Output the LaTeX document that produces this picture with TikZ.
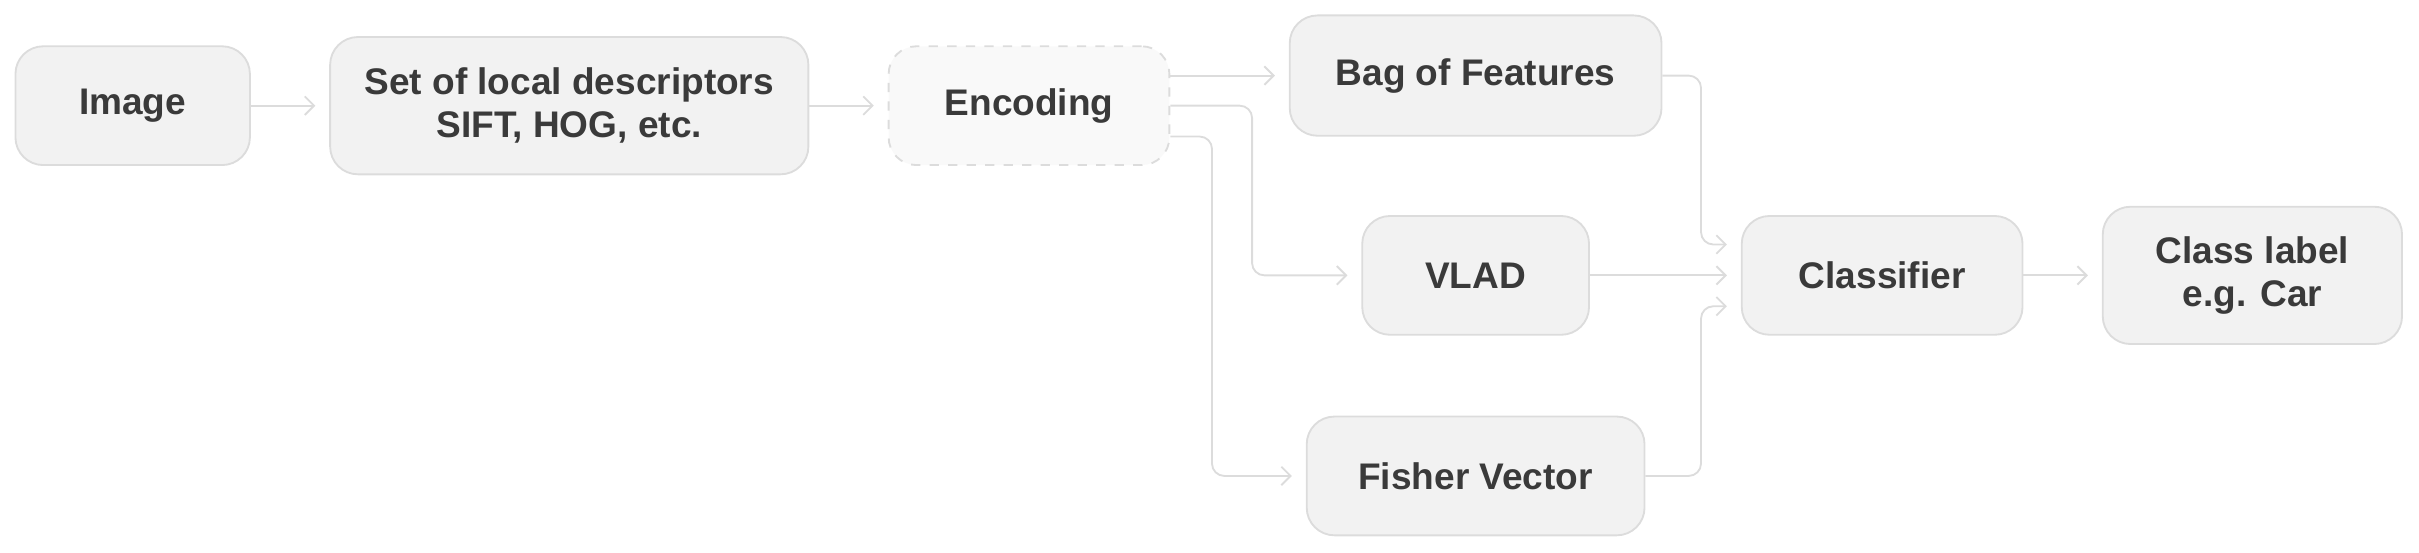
\documentclass[tikz,border=0pt]{standalone}
\usepackage{fontspec}
\setmainfont{Liberation Sans}
\usetikzlibrary{arrows.meta}

\definecolor{boxfill}{HTML}{F2F2F2}
\definecolor{encfill}{HTML}{F9F9F9}
\definecolor{boxline}{HTML}{DCDCDC}
\definecolor{txt}{HTML}{3A3A3A}

\tikzset{
    block/.style={draw=boxline, fill=boxfill, line width=0.6pt, rounded corners=9pt,
        text=txt, font=\fontsize{12}{14}\selectfont\bfseries, align=center,
        inner sep=0pt},
    conn/.style={draw=boxline, line width=0.6pt, rounded corners=4pt,
        -{Straight Barb[length=3pt,width=6pt]}},
}

\begin{document}
\begin{tikzpicture}[x=0.5pt, y=-0.5pt]

    \useasboundingbox (0,0) rectangle (1568,358);

    % Pipeline blocks
    \node[block, minimum width=76pt, minimum height=38.5pt] (img) at (86,68.5) {Image};
    \node[block, minimum width=155pt, minimum height=44.5pt] (desc) at (369,68.5) {Set of local descriptors\\SIFT, HOG, etc.};
    \node[block, fill=encfill, dashed, minimum width=91pt, minimum height=38.5pt] (enc) at (667,68.5) {Encoding};

    % Encodings
    \node[block, minimum width=120.5pt, minimum height=39pt] (bof) at (956.5,49) {Bag of Features};
    \node[block, minimum width=73.5pt, minimum height=38.5pt] (vlad) at (956.5,178.5) {VLAD};
    \node[block, minimum width=109.5pt, minimum height=38.5pt] (fv) at (956.5,308.5) {Fisher Vector};

    % Output
    \node[block, minimum width=91pt, minimum height=38.5pt] (cls) at (1220,178.5) {Classifier};
    \node[block, minimum width=97pt, minimum height=44.5pt] (lbl) at (1460,178.5) {Class label\\e.g. Car};

    % Connectors
    \draw[conn] (img.east) -- ([xshift=-4.5pt]desc.west);
    \draw[conn] (desc.east) -- ([xshift=-4.5pt]enc.west);
    \draw[conn] (enc.east |- bof.west) -- ([xshift=-4.5pt]bof.west);
    \draw[conn] (enc.east) -- ++(53,0) |- ([xshift=-4.5pt]vlad.west);
    \draw[conn] ([yshift=-10pt]enc.east) -- ++(27,0) |- ([xshift=-4.5pt]fv.west);
    \draw[conn] (bof.east) -- ++(25,0) |- ([xshift=-4.5pt,yshift=10pt]cls.west);
    \draw[conn] (vlad.east) -- ([xshift=-4.5pt]cls.west);
    \draw[conn] (fv.east) -- ++(36,0) |- ([xshift=-4.5pt,yshift=-10pt]cls.west);
    \draw[conn] (cls.east) -- ([xshift=-4.5pt]lbl.west);

\end{tikzpicture}
\end{document}
